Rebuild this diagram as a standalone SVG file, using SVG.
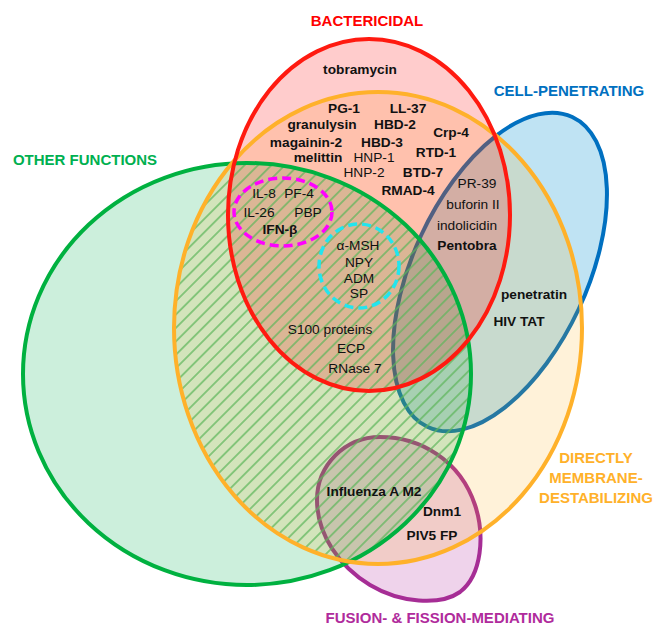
<svg xmlns="http://www.w3.org/2000/svg" width="654" height="625" viewBox="0 0 654 625">
<style>
.t{font-family:"Liberation Sans",Arial,sans-serif;font-size:13.7px;fill:#111;text-anchor:middle}
.b{font-weight:bold}
.lab{font-family:"Liberation Sans",Arial,sans-serif;font-size:15px;font-weight:bold;text-anchor:middle}
.out{fill:none;stroke-width:4}
</style>
<defs>
<pattern id="hatch" width="9.5" height="9.5" patternUnits="userSpaceOnUse" patternTransform="rotate(45)">
<line x1="4.75" y1="0" x2="4.75" y2="9.5" stroke="#5db65a" stroke-width="1.3"/>
</pattern>
<clipPath id="clipOrange"><ellipse cx="378" cy="328" rx="204" ry="236"/></clipPath>
</defs>
<rect width="654" height="625" fill="#fff"/>

<g id="cell-penetrating">
<ellipse cx="500" cy="272" rx="87" ry="171" transform="rotate(25 500 272)" fill="#0090d0" fill-opacity="0.25" stroke="#0070c0" stroke-width="4"/>
</g>
<g id="fusion-fission">
<path d="M380,437 C420,437 460,460 475,505 C485,535 482,575 460,592 C440,606 400,603 370,585 C340,567 317,535 317,500 C317,465 345,437 380,437 Z" fill="#c050b0" fill-opacity="0.25" stroke="#a62d95" stroke-width="4"/>
</g>

<g id="fills">
<ellipse cx="247" cy="374" rx="224" ry="211" fill="#00b050" fill-opacity="0.2"/>
<ellipse cx="378" cy="328" rx="204" ry="236" fill="#ffa500" fill-opacity="0.15"/>
<ellipse cx="369" cy="215" rx="141" ry="176" fill="#ff0000" fill-opacity="0.2"/>
</g>
<g id="hatch-area" clip-path="url(#clipOrange)">
<ellipse cx="247" cy="374" rx="224" ry="211" fill="url(#hatch)"/>
</g>

<g id="other-functions">
<ellipse class="out" cx="247" cy="374" rx="224" ry="211" stroke="#00b140"/>
</g>
<g id="membrane-destabilizing">
<ellipse class="out" cx="378" cy="328" rx="204" ry="236" stroke="#ffb12a"/>
</g>
<g id="bactericidal">
<ellipse class="out" cx="369" cy="215" rx="141" ry="176" stroke="#ff1a10"/>
</g>
<g id="chemokines">
<ellipse cx="283" cy="212" rx="49" ry="34" fill="none" stroke="#ff00ff" stroke-width="3.5" stroke-dasharray="9 5"/>
</g>
<g id="neuropeptides">
<ellipse cx="359" cy="266" rx="40" ry="42" fill="none" stroke="#22e5ee" stroke-width="3.5" stroke-dasharray="9 5"/>
</g>

<g id="set-labels">
<text class="lab" x="367" y="26" fill="#ff0000">BACTERICIDAL</text>
<text class="lab" x="569" y="96" fill="#0070c0">CELL-PENETRATING</text>
<text class="lab" x="85" y="165" fill="#00b050">OTHER FUNCTIONS</text>
<text class="lab" x="596" y="463" fill="#ffb12a">DIRECTLY</text>
<text class="lab" x="596" y="483" fill="#ffb12a">MEMBRANE-</text>
<text class="lab" x="596" y="503" fill="#ffb12a">DESTABILIZING</text>
<text class="lab" x="440" y="623" fill="#b02b9c">FUSION- &amp; FISSION-MEDIATING</text>
</g>

<g id="members">
<text class="t b" x="360" y="74">tobramycin</text>
<text class="t b" x="344" y="113">PG-1</text>
<text class="t b" x="408" y="113">LL-37</text>
<text class="t b" x="322" y="129">granulysin</text>
<text class="t b" x="395" y="129">HBD-2</text>
<text class="t b" x="451" y="137">Crp-4</text>
<text class="t b" x="306" y="147">magainin-2</text>
<text class="t b" x="382" y="147">HBD-3</text>
<text class="t b" x="436" y="157">RTD-1</text>
<text class="t b" x="318" y="162">melittin</text>
<text class="t" x="374" y="162">HNP-1</text>
<text class="t" x="364" y="177">HNP-2</text>
<text class="t b" x="423" y="177">BTD-7</text>
<text class="t b" x="408" y="195">RMAD-4</text>
<text class="t" x="477" y="188">PR-39</text>
<text class="t" x="473" y="209">buforin II</text>
<text class="t" x="467" y="230">indolicidin</text>
<text class="t b" x="467" y="250">Pentobra</text>
<text class="t b" x="534" y="299">penetratin</text>
<text class="t b" x="519" y="326">HIV TAT</text>
<text class="t" x="264" y="198">IL-8</text>
<text class="t" x="299" y="198">PF-4</text>
<text class="t" x="259" y="217">IL-26</text>
<text class="t" x="308" y="217">PBP</text>
<text class="t b" x="280" y="234">IFN-β</text>
<text class="t" x="358" y="250">α-MSH</text>
<text class="t" x="359" y="267">NPY</text>
<text class="t" x="359" y="283">ADM</text>
<text class="t" x="359" y="298">SP</text>
<text class="t" x="330" y="334">S100 proteins</text>
<text class="t" x="351" y="353">ECP</text>
<text class="t" x="355" y="373">RNase 7</text>
<text class="t b" x="374" y="496">Influenza A M2</text>
<text class="t b" x="442" y="516">Dnm1</text>
<text class="t b" x="432" y="540">PIV5 FP</text>
</g>
</svg>
